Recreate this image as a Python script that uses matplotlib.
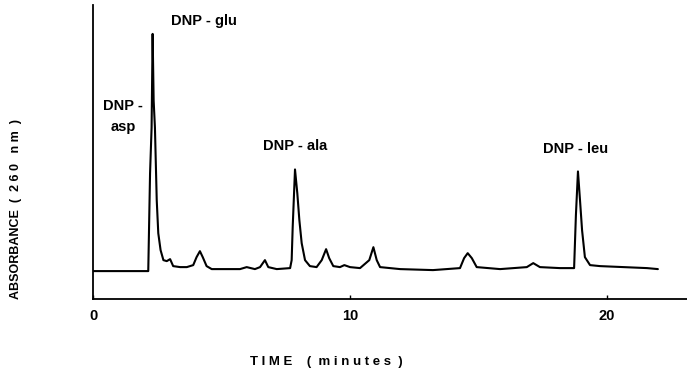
import matplotlib
matplotlib.use("Agg")
import matplotlib.pyplot as plt

# Chromatogram trace (time in minutes, absorbance in arbitrary units)
time_min = [0.00, 2.15, 2.22, 2.28, 2.32, 2.36, 2.41, 2.48, 2.54, 2.63, 2.74, 2.87,
            3.00, 3.12, 3.39, 3.65, 3.90, 4.03, 4.16, 4.27, 4.42, 4.62, 5.72, 5.98,
            6.30, 6.50, 6.69, 6.82, 7.15, 7.67, 7.73, 7.77, 7.86, 7.95, 8.03, 8.12,
            8.25, 8.44, 8.70, 8.90, 9.07, 9.19, 9.35, 9.61, 9.78, 10.00, 10.39, 10.75,
            10.91, 11.04, 11.17, 11.56, 11.95, 13.23, 14.28, 14.44, 14.58, 14.74,
            14.93, 15.84, 16.88, 17.13, 17.39, 18.17, 18.72, 18.79, 18.87, 18.95,
            19.03, 19.14, 19.34, 19.73, 21.56, 21.98]
absorbance = [27, 27, 125, 171, 265, 198, 171, 98, 65, 48, 38, 37,
              39, 32, 31, 31, 33, 41, 47, 41, 32, 29, 29, 31,
              29, 31, 38, 31, 29, 30, 38, 71, 129, 105, 78, 55,
              38, 32, 31, 38, 49, 40, 32, 31, 33, 31, 30, 38,
              51, 38, 31, 30, 29, 28, 30, 40, 45, 40,
              31, 29, 31, 35, 31, 30, 30, 83, 127, 98,
              68, 41, 33, 32, 30, 29]

tick_values = [0, 10, 20]
tick_labels = ["0", "10", "20"]

peak_labels = ["DNP - glu", "DNP -\nasp", "DNP - ala", "DNP - leu"]
peak_label_x = [4.32, 1.17, 7.86, 18.77]
peak_label_y = [278, 182, 153, 150]

x_label = "T I M E    (  m i n u t e s  )"
y_label = "ABSORBANCE  (  2 6 0   n m  )"

W, H = 687, 373
fig = plt.figure(figsize=(W / 100, H / 100), dpi=100)
ax = fig.add_axes([93 / W, (H - 299) / H, (W - 93) / W, (299 - 5) / H])

ax.plot(time_min, absorbance, color="black", lw=1.5,
        solid_joinstyle="round", solid_capstyle="round")

ax.set_xlim(0, (W - 93) / 25.7)
ax.set_ylim(-1, 294)
ax.spines["top"].set_visible(False)
ax.spines["right"].set_visible(False)
for s in ("left", "bottom"):
    ax.spines[s].set_linewidth(1.3)
ax.set_yticks([])
ax.set_xticks(tick_values)
ax.set_xticklabels(tick_labels, fontfamily="Liberation Sans", fontweight="bold", fontsize=10.5)
ax.tick_params(axis="x", direction="in", length=3, width=1, pad=7)

font = dict(fontfamily="Liberation Sans", fontweight="bold", fontsize=10.5)
for txt, x, y in zip(peak_labels, peak_label_x, peak_label_y):
    ax.text(x, y, txt, ha="center", va="center", linespacing=1.7, **font)

fig.text(326 / W, 1 - 362 / H, x_label, ha="center", va="center",
         fontfamily="Liberation Sans", fontweight="bold", fontsize=9.5)
fig.text(16 / W, 1 - 209 / H, y_label, ha="center", va="center",
         rotation=90, fontfamily="Liberation Sans", fontweight="bold", fontsize=9)

fig.savefig("out.png", dpi=100)
